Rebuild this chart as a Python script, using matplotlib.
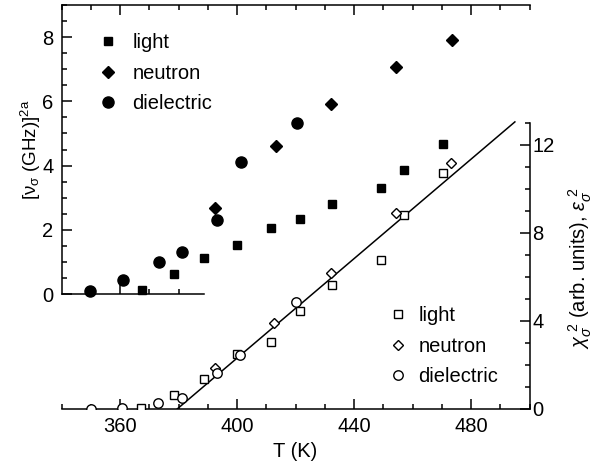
import matplotlib
matplotlib.use("Agg")
import numpy as np
import matplotlib.pyplot as plt
from matplotlib.ticker import MultipleLocator, FixedLocator, NullFormatter

plt.rcParams["font.family"] = ["Liberation Sans", "DejaVu Sans"]
plt.rcParams["mathtext.fontset"] = "custom"
plt.rcParams["mathtext.rm"] = "Liberation Sans"
plt.rcParams["mathtext.it"] = "Liberation Sans:italic"
plt.rcParams["mathtext.bf"] = "Liberation Sans:bold"
plt.rcParams["axes.linewidth"] = 1.1

FS = 14.5

# [nu_sigma (GHz)]^2a, upper-left panel (filled symbols)
light_T = [367.5, 378.3, 388.5, 400.1, 411.5, 421.4, 432.4, 449.2, 457.1, 470.5]
light_nu = [0.12, 0.62, 1.12, 1.52, 2.05, 2.33, 2.80, 3.29, 3.85, 4.66]
neutron_T = [392.6, 413.2, 432.0, 454.3, 473.5]
neutron_nu = [2.67, 4.60, 5.93, 7.08, 7.92]
diel_T = [349.7, 361.0, 373.4, 381.0, 393.0, 401.2, 420.4]
diel_nu = [0.10, 0.43, 1.00, 1.30, 2.30, 4.10, 5.34]

# chi_sigma^2, eps_sigma^2 (arb. units), right axis (open symbols)
light_T2 = [367.2, 378.5, 388.5, 399.8, 411.5, 421.4, 432.4, 449.2, 457.1, 470.5]
light_chi = [0.05, 0.64, 1.36, 2.50, 3.05, 4.45, 5.64, 6.77, 8.82, 10.73]
neutron_T2 = [392.3, 412.5, 432.0, 454.3, 473.1]
neutron_chi = [1.86, 3.90, 6.18, 8.90, 11.20]
diel_T2 = [350.0, 360.7, 373.0, 381.2, 393.0, 401.1, 420.0]
diel_chi = [0.0, 0.05, 0.27, 0.50, 1.64, 2.45, 4.86]

# linear fit through the susceptibility data
fit_T = [379.5, 495.0]
fit_chi = [0.0, 13.05]

fig = plt.figure(figsize=(6.01, 4.68), dpi=100)
rect = [61.7 / 601, 59 / 468, (529.5 - 61.7) / 601, 404 / 468]

# main axes: open symbols, right-hand scale
ax = fig.add_axes(rect)
ax.patch.set_visible(False)
ax.set_xlim(340, 500)
ax.set_ylim(0, 404 / 22.0)
ax.spines["left"].set_visible(False)
ax.spines["top"].set_visible(False)
ax.spines["right"].set_bounds(0, 13)
ax.yaxis.tick_right()
ax.yaxis.set_label_position("right")
ax.set_yticks([0, 4, 8, 12])
ax.yaxis.set_minor_locator(FixedLocator(np.arange(0, 13.5, 1)))
ax.xaxis.set_major_locator(FixedLocator([360, 400, 440, 480]))
ax.xaxis.set_minor_locator(MultipleLocator(10))
ax.tick_params(which="both", direction="in", labelsize=FS, width=1.1)
ax.tick_params(which="major", length=7)
ax.tick_params(which="minor", length=3.5)
ax.tick_params(axis="x", pad=6)
ax.tick_params(axis="y", pad=2)
ax.set_xlabel("T (K)", fontsize=FS, labelpad=4)
ax.set_ylabel(r"$\chi_\sigma^{\ 2}$ (arb. units), $\varepsilon_\sigma^{\ 2}$",
              fontsize=FS)
ax.yaxis.set_label_coords(1.08, 0.349)

ax.plot(fit_T, fit_chi, color="black", lw=1.1, zorder=1)
open_kw = dict(ls="none", mfc="white", mec="black", mew=1.0, zorder=3)
ax.plot(light_T2, light_chi, marker="s", ms=6, label="light", **open_kw)
ax.plot(neutron_T2, neutron_chi, marker="D", ms=5.6, label="neutron", **open_kw)
ax.plot(diel_T2, diel_chi, marker="o", ms=6.8, label="dielectric", **open_kw)
ax.legend(loc="upper left", bbox_to_anchor=(0.689, 0.274), frameon=False,
          fontsize=FS, handlelength=0.6, handletextpad=0.7,
          labelspacing=0.57, borderaxespad=0, numpoints=1)

# top frame with its own ticks
top = ax.secondary_xaxis("top")
top.xaxis.set_major_locator(FixedLocator([360, 400, 440, 480]))
top.xaxis.set_minor_locator(MultipleLocator(10))
top.xaxis.set_major_formatter(NullFormatter())
top.tick_params(which="both", direction="in", width=1.1)
top.tick_params(which="major", length=7)
top.tick_params(which="minor", length=3.5)
top.spines["top"].set_linewidth(1.1)

# upper panel: filled symbols, left-hand scale
ax2 = fig.add_axes(rect)
ax2.patch.set_visible(False)
ax2.set_xlim(340, 500)
ax2.set_ylim(-115 / 32.125, 9)
ax2.spines["top"].set_visible(False)
ax2.spines["right"].set_visible(False)
ax2.spines["left"].set_bounds(0, 9)
ax2.spines["bottom"].set_position(("data", 0))
ax2.spines["bottom"].set_bounds(340, 388.5)
ax2.set_yticks([0, 2, 4, 6, 8])
ax2.yaxis.set_minor_locator(FixedLocator(np.arange(0, 9.25, 0.5)))
ax2.xaxis.set_major_locator(FixedLocator([360]))
ax2.xaxis.set_minor_locator(FixedLocator([350, 370, 380]))
ax2.xaxis.set_major_formatter(NullFormatter())
ax2.tick_params(which="both", direction="in", labelsize=FS, width=1.1)
ax2.tick_params(which="major", length=7)
ax2.tick_params(which="minor", length=3.5)
ax2.tick_params(axis="y", pad=6)
ax2.set_ylabel(r"[$\mathrm{\nu}_\mathrm{\sigma}$ (GHz)]$^{\mathrm{2a}}$",
               fontsize=13.5)
ax2.yaxis.set_label_coords(-0.04, 0.641)

fill_kw = dict(ls="none", color="black", zorder=3)
ax2.plot(light_T, light_nu, marker="s", ms=6, label="light", **fill_kw)
ax2.plot(neutron_T, neutron_nu, marker="D", ms=6, label="neutron", **fill_kw)
ax2.plot(diel_T, diel_nu, marker="o", ms=8, label="dielectric", **fill_kw)
ax2.legend(loc="upper left", bbox_to_anchor=(0.069, 0.95), frameon=False,
           fontsize=FS, handlelength=0.6, handletextpad=0.9,
           labelspacing=0.57, borderaxespad=0, numpoints=1)

fig.savefig("out.png", dpi=100)
